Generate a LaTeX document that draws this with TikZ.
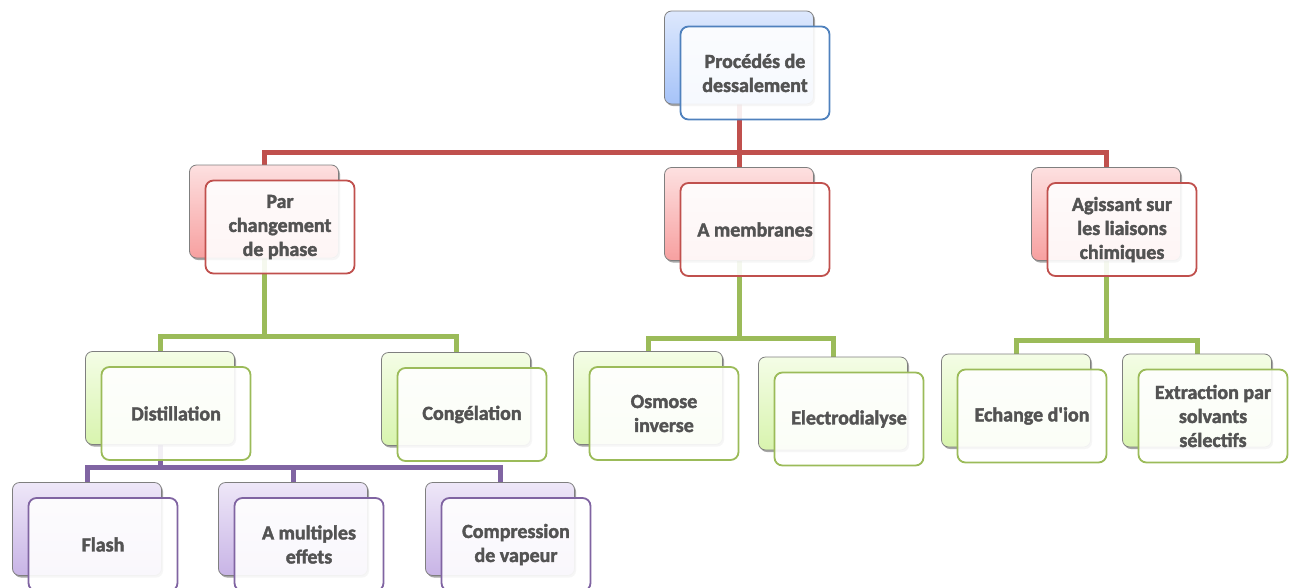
\documentclass[tikz,border=0pt]{standalone}
\usepackage{fontspec}
\setmainfont{Carlito}[BoldFont={Carlito Bold}, BoldFeatures={FakeBold=2}]
\usetikzlibrary{shadows}
\definecolor{txt}{HTML}{535353}
\definecolor{cblue}{HTML}{4F81BD}
\definecolor{cred}{HTML}{C0504D}
\definecolor{cgreen}{HTML}{9BBB59}
\definecolor{cpurple}{HTML}{8064A2}
\definecolor{edgegray}{HTML}{7F7F7F}
\definecolor{bluetop}{HTML}{DDE8FD}
\definecolor{bluebot}{HTML}{A6C3F8}
\definecolor{redtop}{HTML}{FDE0E0}
\definecolor{redbot}{HTML}{F7A0A0}
\definecolor{greentop}{HTML}{F4FDE6}
\definecolor{greenbot}{HTML}{D8F4AE}
\definecolor{purpletop}{HTML}{EEE7F8}
\definecolor{purplebot}{HTML}{C8B4E6}
\tikzset{
  back/.style={rectangle, rounded corners=7pt, minimum width=149pt, minimum height=93pt,
    draw=edgegray, line width=0.8pt,
    drop shadow={shadow xshift=1.5pt, shadow yshift=-2pt, opacity=0.35, fill=black}},
  bblue/.style={back, top color=bluetop, bottom color=bluebot},
  bred/.style={back, top color=redtop, bottom color=redbot},
  bgreen/.style={back, top color=greentop, bottom color=greenbot},
  bpurple/.style={back, top color=purpletop, bottom color=purplebot},
  front/.style={rectangle, rounded corners=8pt, minimum width=149pt, minimum height=93pt,
    fill=white, fill opacity=0.9, text opacity=1, line width=1.8pt, text=txt,
    align=center, font=\fontsize{20}{24}\selectfont\bfseries},
  fblue/.style={front, draw=cblue},
  fred/.style={front, draw=cred},
  fgreen/.style={front, draw=cgreen},
  fpurple/.style={front, draw=cpurple},
  ln/.style={line width=5pt},
}
\begin{document}
\begin{tikzpicture}[x=1pt,y=-1pt]
\useasboundingbox (0,0) rectangle (1294,587);
% coordinates for buses
\coordinate (rbus) at (739,152);
\coordinate (g1bus) at (264,336);
\coordinate (g2bus) at (739,338);
\coordinate (g3bus) at (1106,340);
\coordinate (pbus) at (160,467);
% back box positions
\path
  (739,57.5) coordinate (topc)
  (264,211.5) coordinate (parc)
  (739,214) coordinate (memc)
  (1106,214) coordinate (agic)
  (160,398) coordinate (distc)
  (456,399) coordinate (congc)
  (648,398) coordinate (osmc)
  (833,403.5) coordinate (elecc)
  (1016,400.5) coordinate (echc)
  (1197,400.5) coordinate (extc)
  (87,529) coordinate (flac)
  (293,529) coordinate (mulc)
  (500,529) coordinate (compc);
% connectors
\draw[ln, cred] (topc) -- (rbus);
\draw[ln, cred] (parc) |- (rbus) -| (agic);
\draw[ln, cred] (rbus) -- (memc);
\draw[ln, cgreen] (parc) -- (g1bus);
\draw[ln, cgreen] (distc) |- (g1bus) -| (congc);
\draw[ln, cgreen] (memc) -- (g2bus);
\draw[ln, cgreen] (osmc) |- (g2bus) -| (elecc);
\draw[ln, cgreen] (agic) -- (g3bus);
\draw[ln, cgreen] (echc) |- (g3bus) -| (extc);
\draw[ln, cpurple] (distc) -- (pbus);
\draw[ln, cpurple] (flac) |- (pbus) -| (compc);
\draw[ln, cpurple] (pbus) -| (mulc);
% boxes
\node[bblue] (topb) at (topc) {};
\node[fblue] (topf) at ([shift={(16,15.5)}]topc) {Procédés de\\dessalement};
\node[bred] (parb) at (parc) {};
\node[fred] (parf) at ([shift={(16,15.5)}]parc) {Par\\changement\\de phase};
\node[bred] (memb) at (memc) {};
\node[fred] (memf) at ([shift={(16,15.5)}]memc) {A membranes};
\node[bred] (agib) at (agic) {};
\node[fred] (agif) at ([shift={(16,15.5)}]agic) {Agissant sur\\les liaisons\\chimiques};
\node[bgreen] (distb) at (distc) {};
\node[fgreen] (distf) at ([shift={(16,15.5)}]distc) {Distillation};
\node[bgreen] (congb) at (congc) {};
\node[fgreen] (congf) at ([shift={(16,15.5)}]congc) {Congélation};
\node[bgreen] (osmb) at (osmc) {};
\node[fgreen] (osmf) at ([shift={(16,15.5)}]osmc) {Osmose\\inverse};
\node[bgreen] (elecb) at (elecc) {};
\node[fgreen] (elecf) at ([shift={(16,15.5)}]elecc) {Electrodialyse};
\node[bgreen] (echb) at (echc) {};
\node[fgreen] (echf) at ([shift={(16,15.5)}]echc) {Echange d\textquotesingle ion};
\node[bgreen] (extb) at (extc) {};
\node[fgreen] (extf) at ([shift={(16,15.5)}]extc) {Extraction par\\solvants\\sélectifs};
\node[bpurple] (flab) at (flac) {};
\node[fpurple] (flaf) at ([shift={(16,15.5)}]flac) {Flash};
\node[bpurple] (mulb) at (mulc) {};
\node[fpurple] (mulf) at ([shift={(16,15.5)}]mulc) {A multiples\\effets};
\node[bpurple] (compb) at (compc) {};
\node[fpurple] (compf) at ([shift={(16,15.5)}]compc) {Compression\\de vapeur};
\end{tikzpicture}
\end{document}
